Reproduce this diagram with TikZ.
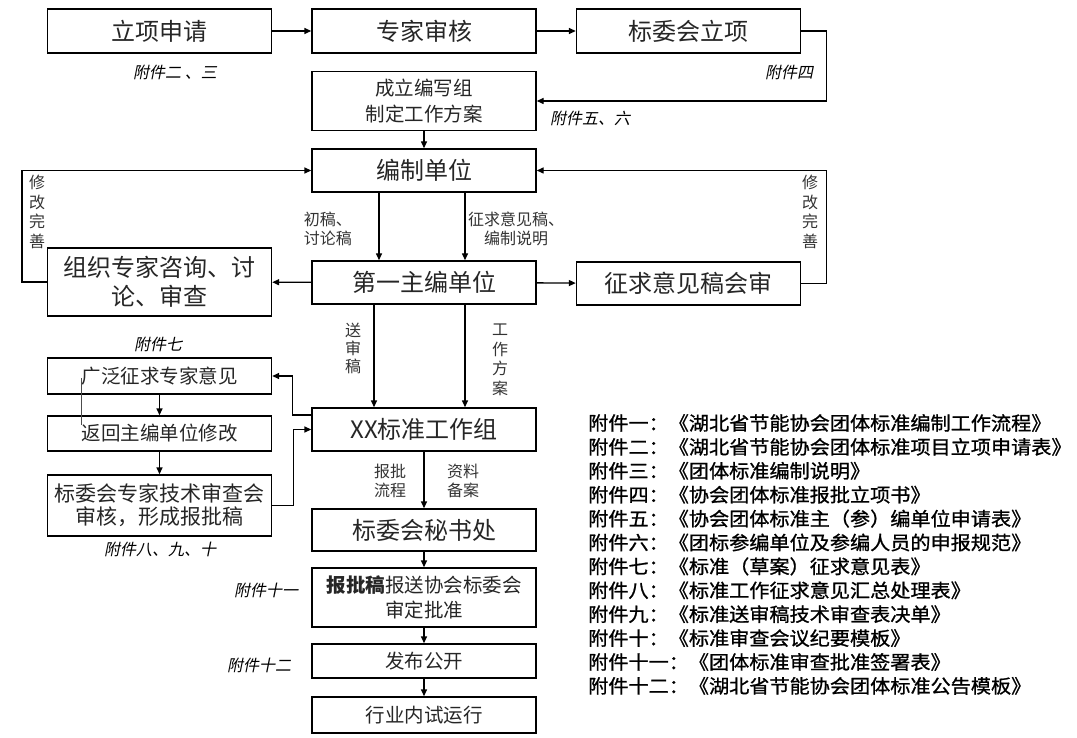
\documentclass[tikz,border=0pt]{standalone}
\usepackage{fontspec}
\setmainfont{Noto Sans CJK SC}
\newfontfamily\slantfont[FakeSlant=0.2]{Noto Sans CJK SC}
\newfontfamily\listfont[FakeBold=1,FakeStretch=1.06]{Noto Sans CJK SC}
\usetikzlibrary{arrows.meta}

\begin{document}
\begin{tikzpicture}[x=1pt, y=-1pt,
  box/.style={draw, line width=1.4pt, align=center, inner sep=0pt, minimum width=224pt, text=black!85},
  big/.style={box, font=\fontsize{24}{29}\selectfont},
  mid/.style={box, font=\fontsize{19.5}{25.5}\selectfont},
  lbl/.style={align=center, inner sep=0pt, text=black!80, font=\fontsize{16}{19.5}\selectfont},
  att/.style={inner sep=0pt, font=\slantfont\fontsize{16}{19}\selectfont},
  item/.style={anchor=west, inner sep=0pt, font=\listfont\fontsize{19}{22}\selectfont},
  arrow/.style={-{Triangle[length=7pt,width=6pt]}, line width=1.4pt},
]
\useasboundingbox (0,0) rectangle (1077,738);
\node[big, minimum height=44pt] (apply) at (159.5,31) {立项申请};
\node[big, minimum height=44pt] (review) at (424,31) {专家审核};
\node[big, minimum height=44pt] (approve) at (688.5,31) {标委会立项};
\node[mid, minimum height=59pt] (group) at (424,101) {成立编写组\\制定工作方案};
\node[big, minimum height=43pt] (unit) at (424,170.5) {编制单位};
\node[big, minimum height=43pt] (chief) at (424,282.5) {第一主编单位};
\node[big, minimum height=68pt, font=\fontsize{24}{29}\selectfont] (consult) at (159.5,282) {组织专家咨询、讨\\论、审查};
\node[big, minimum height=43pt] (solicit) at (688.5,283.5) {征求意见稿会审};
\node[mid, minimum height=36pt] (wide) at (159.5,376) {广泛征求专家意见};
\node[mid, minimum height=35pt] (back) at (159.5,433.5) {返回主编单位修改};
\node[box, minimum height=61pt, font=\fontsize{21}{23}\selectfont] (tech) at (159.5,505.5) {标委会专家技术审查会\\审核，形成报批稿};
\node[big, minimum height=43pt] (xx) at (424,429.5) {XX标准工作组};
\node[big, minimum height=42pt] (sec) at (424,530) {标委会秘书处};
\node[mid, minimum height=59pt] (submit) at (424,597.5) {{\bfseries 报批稿}报送协会标委会\\审定批准};
\node[mid, minimum height=34pt] (publish) at (424,661) {发布公开};
\node[mid, minimum height=36pt] (trial) at (424,715) {行业内试运行};

\node[att] (a23) at (175,72) {附件二 、三};
\node[att] (a4) at (789,72) {附件四};
\node[att] (a56) at (590,118) {附件五、六};
\node[att] (a7) at (158,344) {附件七};
\node[att] (a8910) at (160,549) {附件八、九、十};
\node[att] (a11) at (266,590) {附件十一};
\node[att] (a12) at (259,665) {附件十二};

\node[lbl] (revL) at (37,212) {修\\改\\完\\善};
\node[lbl] (revR) at (810,212) {修\\改\\完\\善};
\node[lbl, align=right, anchor=east] (draft) at (352,229) {初稿、\\讨论稿};
\node[lbl] (opinion) at (516,229) {征求意见稿、\\编制说明};
\node[lbl, font=\fontsize{16}{18}\selectfont] (sent) at (353,348) {送\\审\\稿};
\node[lbl] (plan) at (500,360) {工\\作\\方\\案};
\node[lbl] (flow) at (390,481) {报批\\流程};
\node[lbl] (file) at (463,481) {资料\\备案};

\foreach \n/\t [count=\k from 0] in {一/湖北省节能协会团体标准编制工作流程, 二/湖北省节能协会团体标准项目立项申请表, 三/团体标准编制说明, 四/协会团体标准报批立项书, 五/协会团体标准主（参）编单位申请表, 六/团标参编单位及参编人员的申报规范, 七/标准（草案）征求意见表, 八/标准工作征求意见汇总处理表, 九/标准送审稿技术审查表决单, 十/标准审查会议纪要模板, 十一/团体标准审查批准签署表, 十二/湖北省节能协会团体标准公告模板}
  \node[item] (list\k) at (588,{423+23.9*\k}) {附件\n：《\t》};

\draw[arrow] (apply) -- (review);
\draw[arrow] (review) -- (approve);
\draw[arrow] (approve.east) -- ++(25,0) |- (group.east);
\draw[arrow] (group) -- (unit);
\draw[arrow] ([xshift=-45pt]unit.south) -- ([xshift=-45pt]chief.north);
\draw[arrow] ([xshift=41pt]unit.south) -- ([xshift=41pt]chief.north);
\draw[arrow] (chief) -- (consult);
\draw[arrow] (chief) -- (solicit);
\draw[arrow] (consult.west) -- ++(-25,0) |- (unit.west);
\draw[arrow] (solicit.east) -- ++(25,0) |- (unit.east);
\draw[arrow] ([xshift=-50pt]chief.south) -- ([xshift=-50pt]xx.north);
\draw[arrow] ([xshift=41pt]chief.south) -- ([xshift=41pt]xx.north);
\draw[arrow] ([yshift=14.5pt]xx.west) -- ++(-19,0) |- (wide.east);
\draw[arrow] (tech.east) -- ++(21,0) |- (xx.west);
\draw[arrow] (wide) -- (back);
\draw[arrow] (back) -- (tech);
\draw[arrow] (xx) -- (sec);
\draw[arrow] (sec) -- (submit);
\draw[arrow] (submit) -- (publish);
\draw[arrow] (publish) -- (trial);
\coordinate (m1) at (81,378);
\coordinate (m2) at (81,425);
\draw[thin, black!70] (m1) -- (m2);
\end{tikzpicture}
\end{document}
